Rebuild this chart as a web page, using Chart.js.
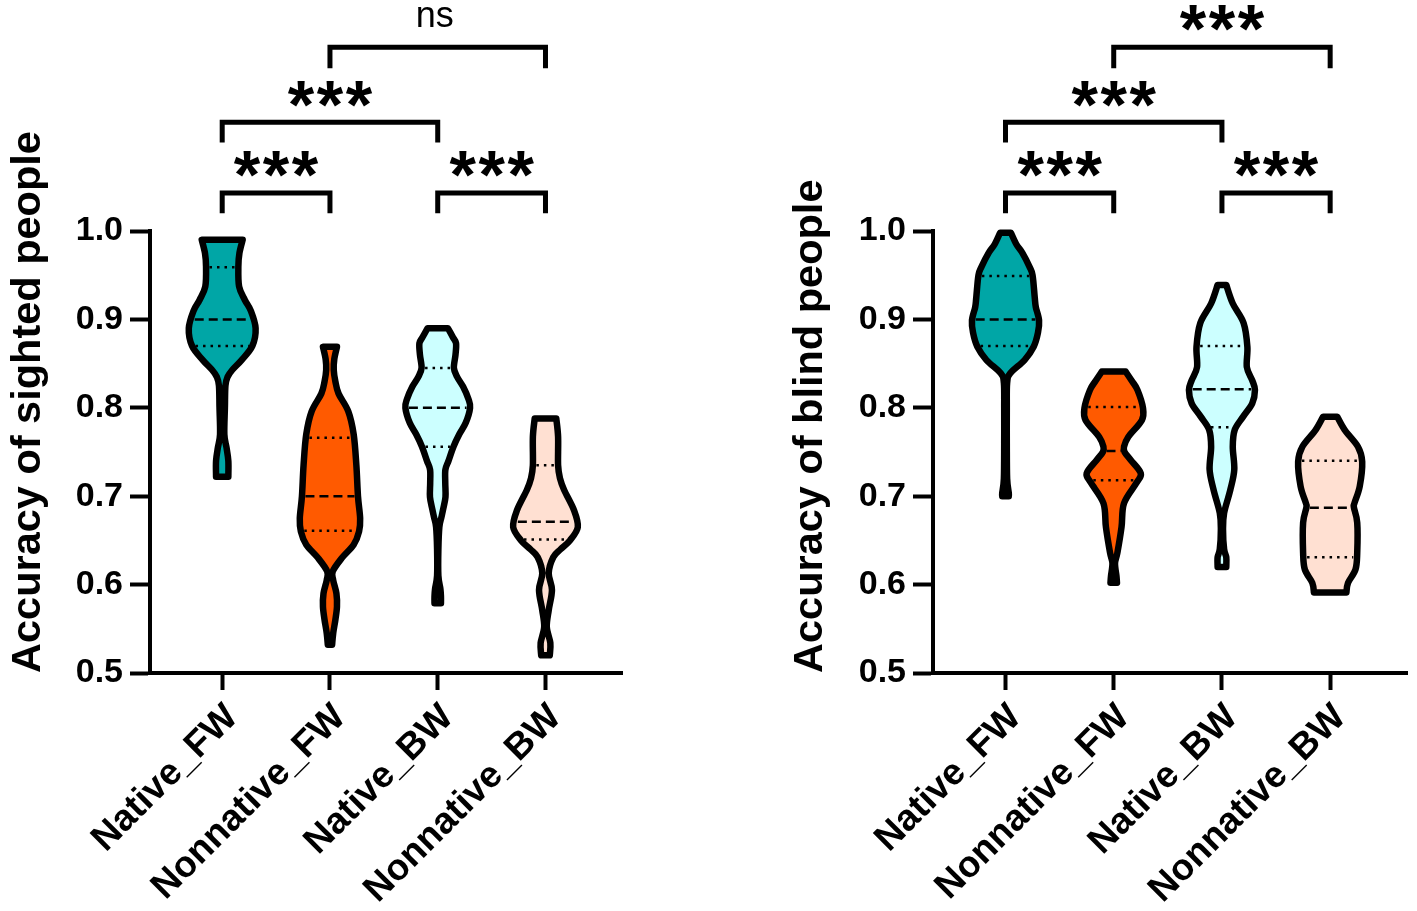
<!DOCTYPE html>
<html>
<head>
<meta charset="utf-8">
<script src="https://cdn.jsdelivr.net/npm/chart.js@4.4.1/dist/chart.umd.min.js"></script>
<style>
  html, body { margin: 0; padding: 0; background: #fff; }
  #wrap { position: relative; width: 1417px; height: 911px; }
  canvas { position: absolute; top: 0; }
  #izquierda { left: 0; }
  #derecha { left: 708px; }
</style>
</head>
<body>
<div id="wrap">
  <canvas id="izquierda" width="708" height="911"></canvas>
  <canvas id="derecha" width="709" height="911"></canvas>
</div>
<script>
const categories = ['Native_FW', 'Nonnative_FW', 'Native_BW', 'Nonnative_BW'];
const yTicks = [0.5, 0.6, 0.7, 0.8, 0.9, 1.0];
const colores = ['#00A6A6', '#FF5A00', '#CCFFFF', '#FFE0D2'];

// violin profiles: [accuracy, half width in category units], top to bottom
const sightedNativeFW = [[0.99,0.19],[0.975,0.16],[0.96,0.15],[0.937,0.157],[0.922,0.21],[0.91,0.265],[0.89,0.31],[0.87,0.28],[0.854,0.18],[0.843,0.095],[0.835,0.05],[0.825,0.03],[0.80,0.025],[0.77,0.02],[0.755,0.04],[0.74,0.057],[0.722,0.057]];
const sightedNonnativeFW = [[0.869,0.065],[0.855,0.04],[0.843,0.035],[0.83,0.05],[0.816,0.08],[0.796,0.17],[0.77,0.22],[0.735,0.245],[0.70,0.26],[0.675,0.28],[0.66,0.27],[0.645,0.22],[0.63,0.11],[0.615,0.026],[0.605,0.03],[0.59,0.06],[0.575,0.065],[0.56,0.05],[0.545,0.03],[0.532,0.02]];
const sightedNativeBW = [[0.89,0.095],[0.88,0.14],[0.873,0.17],[0.86,0.165],[0.845,0.15],[0.835,0.18],[0.824,0.235],[0.81,0.285],[0.80,0.30],[0.783,0.26],[0.77,0.2],[0.756,0.146],[0.74,0.1],[0.73,0.071],[0.715,0.07],[0.699,0.072],[0.685,0.05],[0.676,0.034],[0.665,0.015],[0.64,0.006],[0.61,0.006],[0.595,0.025],[0.586,0.03],[0.579,0.03]];
const sightedNonnativeBW = [[0.788,0.10],[0.767,0.117],[0.735,0.117],[0.72,0.135],[0.707,0.173],[0.684,0.265],[0.665,0.30],[0.65,0.227],[0.64,0.14],[0.631,0.072],[0.613,0.03],[0.594,0.06],[0.571,0.03],[0.552,0.012],[0.534,0.045],[0.520,0.04]];

const blindNativeFW = [[0.998,0.05],[0.985,0.1],[0.975,0.157],[0.96,0.22],[0.95,0.25],[0.925,0.27],[0.914,0.28],[0.899,0.31],[0.885,0.3],[0.869,0.26],[0.854,0.176],[0.839,0.044],[0.828,0.015],[0.80,0.012],[0.76,0.012],[0.72,0.015],[0.704,0.03],[0.70,0.03]];
const blindNonnativeFW = [[0.841,0.11],[0.83,0.17],[0.82,0.22],[0.80,0.27],[0.786,0.26],[0.767,0.134],[0.756,0.095],[0.750,0.10],[0.741,0.157],[0.726,0.25],[0.715,0.21],[0.692,0.095],[0.665,0.072],[0.636,0.034],[0.624,0.012],[0.61,0.025],[0.602,0.03]];
const blindNativeBW = [[0.939,0.04],[0.918,0.10],[0.896,0.20],[0.869,0.235],[0.846,0.23],[0.831,0.28],[0.820,0.305],[0.805,0.28],[0.790,0.196],[0.775,0.118],[0.756,0.10],[0.730,0.114],[0.707,0.077],[0.681,0.02],[0.662,0.01],[0.64,0.02],[0.631,0.04],[0.620,0.04]];
const blindNonnativeBW = [[0.790,0.065],[0.775,0.134],[0.756,0.257],[0.739,0.296],[0.711,0.273],[0.692,0.224],[0.687,0.22],[0.670,0.25],[0.636,0.25],[0.617,0.234],[0.602,0.165],[0.591,0.15]];

const sightedMedian = [0.90, 0.70, 0.80, 0.671];
const sightedQ3 = [0.959, 0.766, 0.845, 0.735];
const sightedQ1 = [0.870, 0.661, 0.756, 0.651];
const blindMedian = [0.90, 0.751, 0.821, 0.687];
const blindQ3 = [0.949, 0.801, 0.870, 0.740];
const blindQ1 = [0.870, 0.718, 0.778, 0.631];

// comparisons between categories and their labels
const comparaciones = [[0, 1], [2, 3], [0, 2], [1, 3]];
const sightedSignos = ['***', '***', '***', 'ns'];
const blindSignos = ['***', '***', '***', '***'];
// [leg end, bar, label] in axis units above 1.0
const nivelesCorchete = [[1.020, 1.043, 1.077], [1.020, 1.043, 1.077], [1.100, 1.123, 1.156], [1.184, 1.208, 1.242]];

const fuente = '"Liberation Sans", Arial, sans-serif';

function curva(ctx, pts) {
    for (let i = 0; i < pts.length - 1; i++) {
        const p0 = pts[i - 1] || pts[i], p1 = pts[i], p2 = pts[i + 1], p3 = pts[i + 2] || p2;
        ctx.bezierCurveTo(
            p1.x + (p2.x - p0.x) / 6, p1.y + (p2.y - p0.y) / 6,
            p2.x - (p3.x - p1.x) / 6, p2.y - (p3.y - p1.y) / 6,
            p2.x, p2.y);
    }
}

function anchoEn(perfil, v) {
    for (let k = 0; k < perfil.length - 1; k++) {
        const a = perfil[k], b = perfil[k + 1];
        if (v <= a[0] && v >= b[0]) {
            const t = (a[0] - v) / (a[0] - b[0]);
            return a[1] + (b[1] - a[1]) * t;
        }
    }
    return 0;
}

const violinPlugin = {
    id: 'violines',
    afterDatasetsDraw(chart, args, opts) {
        const ctx = chart.ctx;
        const x = chart.scales.x, y = chart.scales.y;
        const pxCat = x.getPixelForValue(1) - x.getPixelForValue(0);

        opts.perfiles.forEach(function (perfil, i) {
            const der = perfil.map(p => ({ x: x.getPixelForValue(i + p[1]), y: y.getPixelForValue(p[0]) }));
            const izq = perfil.map(p => ({ x: x.getPixelForValue(i - p[1]), y: y.getPixelForValue(p[0]) })).reverse();
            ctx.save();
            ctx.beginPath();
            ctx.moveTo(izq[izq.length - 1].x, izq[izq.length - 1].y);
            ctx.lineTo(der[0].x, der[0].y);
            curva(ctx, der);
            ctx.lineTo(izq[0].x, izq[0].y);
            curva(ctx, izq);
            ctx.closePath();
            ctx.fillStyle = colores[i];
            ctx.fill();
            ctx.lineWidth = 6.5;
            ctx.lineJoin = 'round';
            ctx.strokeStyle = '#000';
            ctx.stroke();

            // median and quartiles
            const cx = x.getPixelForValue(i);
            const lineas = [
                { v: opts.mediana[i], dash: [9, 5] },
                { v: opts.q3[i], dash: [2.5, 5] },
                { v: opts.q1[i], dash: [2.5, 5] }
            ];
            lineas.forEach(function (l) {
                const mitad = anchoEn(perfil, l.v) * pxCat - 3.5;
                if (mitad <= 0) return;
                const py = y.getPixelForValue(l.v);
                ctx.beginPath();
                ctx.setLineDash(l.dash);
                ctx.lineWidth = 2.5;
                ctx.lineCap = 'butt';
                ctx.moveTo(cx - mitad, py);
                ctx.lineTo(cx + mitad, py);
                ctx.stroke();
            });
            ctx.restore();
        });

        // significance brackets
        ctx.save();
        ctx.strokeStyle = '#000';
        ctx.fillStyle = '#000';
        ctx.lineWidth = 5;
        ctx.lineJoin = 'miter';
        comparaciones.forEach(function (c, k) {
            const niv = nivelesCorchete[k];
            const x1 = x.getPixelForValue(c[0]), x2 = x.getPixelForValue(c[1]);
            const yPata = y.getPixelForValue(niv[0]), yBarra = y.getPixelForValue(niv[1]);
            ctx.beginPath();
            ctx.moveTo(x1, yPata);
            ctx.lineTo(x1, yBarra);
            ctx.lineTo(x2, yBarra);
            ctx.lineTo(x2, yPata);
            ctx.stroke();

            const texto = opts.signos[k];
            const yTexto = y.getPixelForValue(niv[2]);
            const xm = (x1 + x2) / 2;
            ctx.textAlign = 'center';
            ctx.textBaseline = 'alphabetic';
            if (texto === 'ns') {
                ctx.font = '36px ' + fuente;
                ctx.fillText(texto, xm - 3, yTexto + 10);
            } else {
                ctx.font = 'bold 68px ' + fuente;
                for (let j = 0; j < texto.length; j++) {
                    ctx.fillText('*', xm + (j - (texto.length - 1) / 2) * 29, yTexto + 35);
                }
            }
        });
        ctx.restore();
    }
};

function crearGrafico(id, titulo, perfiles, mediana, q3, q1, signos, padIzq, anchoY, padDer) {
    new Chart(document.getElementById(id), {
        type: 'scatter',
        data: {
            datasets: [{
                data: mediana.map((m, i) => ({ x: i, y: m })),
                pointRadius: 0,
                showLine: false
            }]
        },
        options: {
            responsive: false,
            animation: false,
            devicePixelRatio: 1,
            layout: { padding: { top: 231, left: padIzq, right: padDer, bottom: 0 } },
            plugins: {
                legend: { display: false },
                tooltip: { enabled: false },
                violines: { perfiles: perfiles, mediana: mediana, q3: q3, q1: q1, signos: signos }
            },
            scales: {
                x: {
                    type: 'linear',
                    min: -0.67,
                    max: 3.71,
                    afterBuildTicks: function (s) { s.ticks = categories.map((c, i) => ({ value: i })); },
                    afterFit: function (s) { s.height = 238; },
                    ticks: {
                        callback: v => categories[v],
                        autoSkip: false,
                        maxRotation: 45,
                        minRotation: 45,
                        padding: 6,
                        labelOffset: 10,
                        color: '#000',
                        font: { family: fuente, size: 37, weight: 'bold' }
                    },
                    grid: { drawOnChartArea: false, drawTicks: true, tickLength: 17, tickWidth: 4, tickColor: '#000' },
                    border: { display: true, color: '#000', width: 4 }
                },
                y: {
                    min: 0.5,
                    max: 1.0,
                    afterBuildTicks: function (s) { s.ticks = yTicks.map(v => ({ value: v })); },
                    afterFit: function (s) { s.width = anchoY; },
                    ticks: {
                        callback: v => v.toFixed(1),
                        padding: 7,
                        color: '#000',
                        font: { family: fuente, size: 34, weight: 'bold' }
                    },
                    grid: { drawOnChartArea: false, drawTicks: true, tickLength: 20, tickWidth: 4, tickColor: '#000' },
                    border: { display: true, color: '#000', width: 4 },
                    title: {
                        display: true,
                        text: titulo,
                        align: 'start',
                        color: '#000',
                        padding: { top: 4, bottom: 4 },
                        font: { family: fuente, size: 41.5, weight: 'bold' }
                    }
                }
            }
        },
        plugins: [violinPlugin]
    });
}

crearGrafico('izquierda', 'Accuracy of sighted people',
    [sightedNativeFW, sightedNonnativeFW, sightedNativeBW, sightedNonnativeBW],
    sightedMedian, sightedQ3, sightedQ1, sightedSignos, 0, 150, 86);

crearGrafico('derecha', 'Accuracy of blind people',
    [blindNativeFW, blindNonnativeFW, blindNativeBW, blindNonnativeBW],
    blindMedian, blindQ3, blindQ1, blindSignos, 74, 151, 10);
</script>
</body>
</html>
